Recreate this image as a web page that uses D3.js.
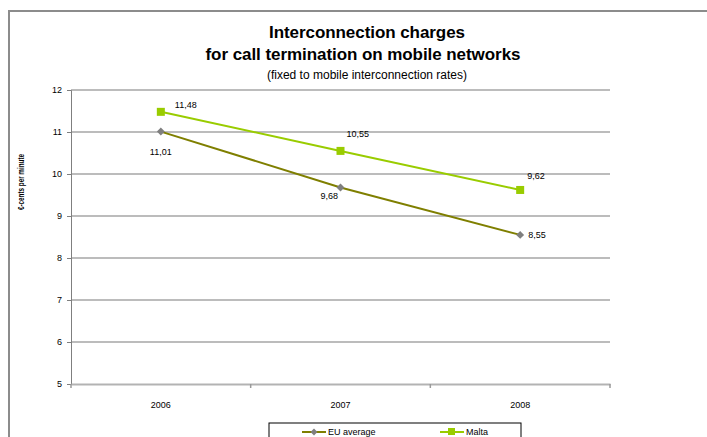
<!DOCTYPE html>
<html>
<head>
<meta charset="utf-8">
<script src="https://cdn.jsdelivr.net/npm/d3@7"></script>
<style>
  body { margin: 0; background: #fff; }
  text { font-family: "Liberation Sans", Arial, sans-serif; fill: #000; }
</style>
</head>
<body>
<div id="chart"></div>
<script>
// chart data
var years = ["2006", "2007", "2008"];
var euAverage = [11.01, 9.68, 8.55];
var malta = [11.48, 10.55, 9.62];
var yTicks = [5, 6, 7, 8, 9, 10, 11, 12];
var seriesNames = ["EU average", "Malta"];

var width = 707;
var height = 437;

var svg = d3.select("#chart").append("svg")
  .attr("width", width)
  .attr("height", height);

// outer frame (cut off at right and bottom like the original)
svg.append("rect")
  .attr("x", 9).attr("y", 11)
  .attr("width", 760).attr("height", 500)
  .style("fill", "none")
  .style("stroke", "#8c8c8c")
  .style("stroke-width", 2);

// title
var title = svg.append("g").attr("text-anchor", "middle");
title.append("text").attr("x", 367).attr("y", 38)
  .attr("textLength", 196)
  .style("font-size", "17px").style("font-weight", "bold")
  .text("Interconnection charges");
title.append("text").attr("x", 363).attr("y", 60)
  .attr("textLength", 315)
  .style("font-size", "17px").style("font-weight", "bold")
  .text("for call termination on mobile networks");
title.append("text").attr("x", 367).attr("y", 79)
  .style("font-size", "12px")
  .text("(fixed to mobile interconnection rates)");

// scales
var x = d3.scaleBand()
  .domain(years)
  .range([71, 610]);

var y = d3.scaleLinear()
  .domain([5, 12])
  .range([384, 90]);

// gridlines
svg.append("g")
  .selectAll("line")
  .data(yTicks.slice(1))
  .enter()
  .append("line")
    .attr("x1", 71).attr("x2", 610)
    .attr("y1", function(d) { return y(d); })
    .attr("y2", function(d) { return y(d); })
    .style("stroke", "#a6a6a6")
    .style("stroke-width", 1.5);

// y axis
var yAxis = svg.append("g")
  .attr("transform", "translate(71,0)")
  .call(d3.axisLeft(y).tickValues(yTicks).tickFormat(d3.format("d")).tickSize(4).tickPadding(5));
yAxis.select(".domain").style("stroke", "#7f7f7f");
yAxis.selectAll(".tick line").style("stroke", "#7f7f7f");
yAxis.selectAll("text").style("font-size", "9px").style("font-family", "Liberation Sans, Arial, sans-serif");

// x axis
var xAxis = svg.append("g")
  .attr("transform", "translate(0,384)")
  .call(d3.axisBottom(x).tickSize(0).tickPadding(18));
xAxis.select(".domain").style("stroke", "#b3b3b3").style("stroke-width", 2);
xAxis.selectAll("text").style("font-size", "9px").style("font-family", "Liberation Sans, Arial, sans-serif");

// category boundary ticks
svg.append("g")
  .selectAll("line")
  .data(years.concat(["end"]))
  .enter()
  .append("line")
    .attr("x1", function(d, i) { return x.range()[0] + i * x.bandwidth(); })
    .attr("x2", function(d, i) { return x.range()[0] + i * x.bandwidth(); })
    .attr("y1", 384).attr("y2", 388)
    .style("stroke", "#9a9a9a")
    .style("stroke-width", 1.5);

// y axis title
svg.append("text")
  .attr("transform", "translate(24,182) rotate(-90)")
  .attr("text-anchor", "middle")
  .attr("textLength", 56)
  .attr("lengthAdjust", "spacingAndGlyphs")
  .style("font-size", "9px")
  .style("font-weight", "bold")
  .text("€-cents per minute");

var line = d3.line()
  .x(function(d, i) { return x(years[i]) + x.bandwidth() / 2; })
  .y(function(d) { return y(d); });

var fmt = function(v) { return d3.format(".2f")(v).replace(".", ","); };

// EU average series
svg.append("path")
  .datum(euAverage)
  .attr("d", line)
  .style("fill", "none")
  .style("stroke", "#7f7f00")
  .style("stroke-width", 2);

svg.append("g")
  .selectAll("path")
  .data(euAverage)
  .enter()
  .append("path")
    .attr("d", d3.symbol().type(d3.symbolDiamond2).size(40))
    .attr("transform", function(d, i) {
      return "translate(" + (x(years[i]) + x.bandwidth() / 2) + "," + y(d) + ")";
    })
    .style("fill", "#7f7f7f");

// Malta series
svg.append("path")
  .datum(malta)
  .attr("d", line)
  .style("fill", "none")
  .style("stroke", "#99cc00")
  .style("stroke-width", 2);

svg.append("g")
  .selectAll("rect")
  .data(malta)
  .enter()
  .append("rect")
    .attr("x", function(d, i) { return x(years[i]) + x.bandwidth() / 2 - 4; })
    .attr("y", function(d) { return y(d) - 4; })
    .attr("width", 8).attr("height", 8)
    .style("fill", "#99cc00");

// data labels (offset from the point, like Excel placed them)
var euOffsets = [[-11, 23], [-20, 12], [8, 3]];
var maltaOffsets = [[14, -4], [6, -14], [7, -11]];

svg.append("g")
  .selectAll("text")
  .data(euAverage)
  .enter()
  .append("text")
    .attr("x", function(d, i) { return x(years[i]) + x.bandwidth() / 2 + euOffsets[i][0]; })
    .attr("y", function(d, i) { return y(d) + euOffsets[i][1]; })
    .style("font-size", "9px")
    .text(fmt);

svg.append("g")
  .selectAll("text")
  .data(malta)
  .enter()
  .append("text")
    .attr("x", function(d, i) { return x(years[i]) + x.bandwidth() / 2 + maltaOffsets[i][0]; })
    .attr("y", function(d, i) { return y(d) + maltaOffsets[i][1]; })
    .style("font-size", "9px")
    .text(fmt);

// legend
var legend = svg.append("g");
legend.append("rect")
  .attr("x", 269).attr("y", 423)
  .attr("width", 252).attr("height", 40)
  .style("fill", "#fff")
  .style("stroke", "#000")
  .style("stroke-width", 1);

var legendItems = legend.selectAll("g")
  .data(seriesNames)
  .enter()
  .append("g")
    .attr("transform", function(d, i) { return "translate(" + (i === 0 ? 302 : 440) + ",432)"; });

legendItems.append("line")
  .attr("x1", 0).attr("x2", 24)
  .style("stroke", function(d, i) { return i === 0 ? "#7f7f00" : "#99cc00"; })
  .style("stroke-width", 2);

legendItems.filter(function(d, i) { return i === 0; })
  .append("path")
    .attr("transform", "translate(12,0)")
    .attr("d", d3.symbol().type(d3.symbolDiamond2).size(30))
    .style("fill", "#7f7f7f");

legendItems.filter(function(d, i) { return i === 1; })
  .append("rect")
    .attr("x", 8).attr("y", -4)
    .attr("width", 7).attr("height", 7)
    .style("fill", "#99cc00");

legendItems.append("text")
  .attr("x", 26).attr("y", 3)
  .style("font-size", "9px")
  .text(function(d) { return d; });
</script>
</body>
</html>
